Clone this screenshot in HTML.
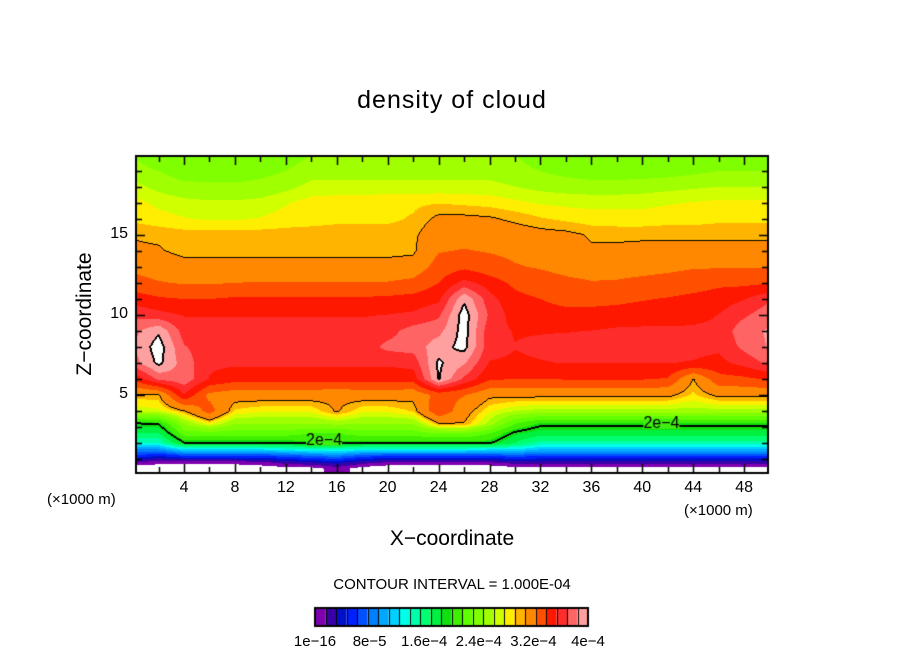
<!DOCTYPE html>
<html><head><meta charset="utf-8">
<style>
body{margin:0;background:#fff;width:904px;height:654px;overflow:hidden;position:relative;font-family:"Liberation Sans",sans-serif;}
.t{position:absolute;color:#000;white-space:nowrap;}
</style></head>
<body>
<div class="t" style="left:0;width:904px;text-align:center;top:86px;font-size:25px;letter-spacing:1px;">density of cloud</div>
<canvas id="cv" width="904" height="654" style="position:absolute;left:0;top:0"></canvas>
<div class="t" style="left:47px;top:491px;font-size:15px;">(×1000 m)</div>
<div class="t" style="left:684px;top:502px;font-size:15px;">(×1000 m)</div>
<div class="t" style="left:0;width:904px;text-align:center;top:527px;font-size:21px;">X−coordinate</div>
<div class="t" style="left:85px;top:314px;font-size:21px;transform:translate(-50%,-50%) rotate(-90deg);">Z−coordinate</div>
<div class="t" style="left:0;width:904px;text-align:center;top:576px;font-size:15px;">CONTOUR INTERVAL = 1.000E-04</div>
<div id="xl"></div><div id="yl"></div><div id="cl"></div>
<script>
const xCols=[0,2,4,6,8,10,12,14,16,18,20,22,24,26,28,30,32,34,36,38,40,42,44,46,48,50];
const zRows=[20,19,18,17,16,15,14,13,12,11,10,9,8,7,6,5,4,3.2,2.6,2.0,1.6,1.2,0.8,0.4];
const r20=[16,15,15,15,15,15,15.5,16,16,16,16,16,16,16,16,16,15.5,15,15,15,15,15,15,15,15.5,15.5];
const r19=[16.5,16,15.5,15.5,15.5,15.7,16,16.5,16.5,16.5,16.5,16.5,16.5,16.5,16.5,16.3,16,15.7,15.5,15.5,15.5,15.6,15.8,16,16,16];
const r18=[17,16.6,16.3,16.2,16.2,16.3,16.6,17,17,17,17,17,17,17,17,16.8,16.6,16.5,16.4,16.4,16.5,16.6,16.7,16.8,16.8,16.8];
const r17=[17.6,17.2,17,16.9,16.9,17,17.3,17.6,17.7,17.7,17.8,17.8,17.9,17.8,17.7,17.5,17.3,17.2,17.2,17.2,17.2,17.3,17.4,17.5,17.5,17.5];
const r16=[17.8,17.6,17.4,17.3,17.3,17.4,17.6,17.7,17.8,17.8,17.8,18,18.7,18.7,18.6,18.3,18,17.8,17.6,17.6,17.6,17.7,17.7,17.8,17.8,17.8];
const r15=[18.4,18.3,18.2,18.2,18.2,18.2,18.2,18.2,18.2,18.2,18.2,18.3,19.2,19.3,19.2,19,18.8,18.7,18.4,18.3,18.3,18.3,18.3,18.3,18.3,18.3];
const r14=[18.7,18.6,18.2,18.2,18.2,18.2,18.2,18.2,18.2,18.2,18.2,18.3,19.8,20,19.8,19.6,19.4,19.2,18.6,18.7,18.8,18.8,18.8,18.8,18.8,18.8];
const r13=[19.5,19.2,18.9,18.9,18.9,18.9,18.9,18.9,18.9,18.9,18.9,19,20.5,21,20.5,20,19.8,19.5,19.3,19.5,19.5,19.6,19.8,19.8,19.8,19.8];
const r12=[20.5,20,19.8,19.8,19.9,20,20,20,20,20,20,20.3,21.3,23,22,21,20.5,20.2,20,20,20.2,20.4,20.6,21,21,21.2];
const r11=[22,21.5,21.3,21.3,21.5,21.5,21.5,21.5,21.5,21.5,21.6,21.8,22.3,25.8,23,21.7,21.3,21,21,21,21.2,21.4,21.7,22,22.5,23.5];
const r10=[23.5,23,22.5,22.5,22.5,22.5,22.5,22.5,22.5,22.5,22.6,22.8,23.5,26.6,23.5,22,21.7,21.6,21.6,21.8,22,22,22.2,22.6,23.5,24.5];
const r9=[24.5,25.8,23.2,23,23,23,23,23,23,23,23.3,24.2,24.5,26.5,23,22.5,22.5,22.5,22.6,22.8,22.8,22.8,22.8,22.8,24.5,25];
const r8=[24.8,26.6,23.8,23.1,23.1,23.1,23.1,23.1,23.1,23.1,24,24.2,25.5,26.4,23,22.6,22.8,23.1,23.1,23.1,22.9,22.9,22.9,22.8,24,25];
const r7=[24.3,26.3,24.3,22.8,22.8,22.8,22.8,22.8,22.8,22.8,22.8,23,26.2,25,22.5,22.4,22.5,22.6,22.6,22.6,22.6,22.6,22.5,22.2,23,24];
const r6=[21.5,24,24.5,22.5,21.8,21.8,21.8,21.8,21.8,21.8,21.8,21.9,26.1,23.5,21.5,21.3,21.3,21.4,21.4,21.4,21.4,21.2,18.4,20.8,21,21.5];
const r5=[18.2,18.3,22.5,19.5,19,19,19,19,18.8,19,19,18.8,20.5,20,18.7,18.7,18.7,18.7,18.7,18.7,18.7,18.7,17.8,18.7,18.7,18.7];
const r4=[17,17.2,18.3,20.5,17.8,17.5,17.5,17.5,18.6,17.5,17.5,18,21,19,17.5,16.8,16.5,16.5,16.5,16.5,16.5,16.5,16.5,16.5,16.5,16.5];
const r32=[12.3,12.6,16,17.5,16,16,16,16,16.2,16,16,16,18.3,18.4,16.5,14,12.8,12.8,12.8,12.8,12.8,12.8,12.8,12.8,12.8,12.8];
const r26=[11,11,14.5,14.5,14.5,14.5,14.5,14,14,14.5,14.5,14.5,15,15,14,12.2,11.5,11.5,11.5,11.5,11.5,11.5,11.5,11.5,11.5,11.5];
const r20b=[9,9,12.4,12.4,12.4,12.4,12.4,12.8,12.8,12.6,12.6,12.6,12.6,12.6,12.6,11,9.5,9.5,9.5,9.5,9.5,9.5,9.5,9.5,9.5,9.5];
const r16b=[6,6,8,8,8,8,8.5,9,9,8.5,8.5,8.5,8.5,8.5,8,8,7,7,7,7,7,7,7,7,7,7];
const r12b=[4,3,4,4,4,4,4.5,5,5.5,4.5,4,4,4,4,4,4.5,4,4,4,4,4,4,4,4,4,4];
const r08=[1,0.5,0.5,0.5,0.5,0.8,1.5,2,2.5,1.5,1,1,1,1,1,1.5,1.5,1.5,1.5,1.5,1.5,1.5,1.5,1.5,1.5,1.5];
const r04=[-1,-1,-1,-1,-1,-0.8,-0.5,-0.5,0.5,-0.5,-1,-1,-1,-1,-1,-0.5,-0.5,-0.5,-0.5,-0.5,-0.5,-0.5,-0.5,-0.5,-0.5,-0.5];
const grid=[r20,r19,r18,r17,r16,r15,r14,r13,r12,r11,r10,r9,r8,r7,r6,r5,r4,r32,r26,r20b,r16b,r12b,r08,r04];
const xTicks=[4,8,12,16,20,24,28,32,36,40,44,48];
const zTicks=[5,10,15];
const cbarLabels=["1e-16","8e-5","1.6e-4","2.4e-4","3.2e-4","4e-4"];
const contourLevels=[12.5,18.5,26];
const colors=["#8000b0","#3a00a8","#0010c8","#0020ff","#0050ff","#0080ff","#00a8ff","#00d0ff","#00ffe8","#00ffa8","#00ff70","#00f040","#10e010","#40f000","#60ff00","#80ff00","#a0ff00","#d0ff00","#ffee00","#ffb400","#ff8800","#ff5000","#ff1800","#ff2c2c","#ff6464","#ffa0a0"];

const L=136,R=768,T=156,B=473;
const X0=133.1,XS=12.73,Z0=475,ZS=16;
const px=x=>X0+XS*x, py=z=>Z0-ZS*z;
const ix=p=>(p-X0)/XS, iz=p=>(Z0-p)/ZS;
function cmap(v){
  if(v<=16.5)return v;
  if(v<=18.5)return 16.5+(v-16.5)*1.75;
  if(v<=22)return 20+(v-18.5)*(2.5/3.5);
  if(v<=26)return 22.5+(v-22)*(3.5/4);
  return v;
}
function sample(x,z){
  x=Math.max(0,Math.min(50,x));
  let ci=Math.min(xCols.length-2,Math.floor(x/2)); let fx=(x-xCols[ci])/(xCols[ci+1]-xCols[ci]);
  let ri, fz;
  if(z>=zRows[0]){ri=0;fz=0;}
  else if(z<=zRows[zRows.length-1]){ri=zRows.length-2;fz=1;}
  else{ri=0;while(!(z<=zRows[ri]&&z>=zRows[ri+1]))ri++;fz=(zRows[ri]-z)/(zRows[ri]-zRows[ri+1]);}
  const a=grid[ri][ci],b=grid[ri][ci+1],c=grid[ri+1][ci],d=grid[ri+1][ci+1];
  return (a*(1-fx)+b*fx)*(1-fz)+(c*(1-fx)+d*fx)*fz;
}
const cv=document.getElementById('cv'),ctx=cv.getContext('2d');
const W=R-L,H=B-T;
const vals=new Float32Array(W*H);
for(let j=0;j<H;j++)for(let i=0;i<W;i++)vals[j*W+i]=sample(ix(L+i+0.5),iz(T+j+0.5));
const img=ctx.createImageData(W,H);
function hex(h){return [parseInt(h.substr(1,2),16),parseInt(h.substr(3,2),16),parseInt(h.substr(5,2),16)];}
const rgb=colors.map(hex);
for(let j=0;j<H;j++)for(let i=0;i<W;i++){
  const v=vals[j*W+i];let c;
  const m=cmap(v);
  if(v<0||v>=26)c=[255,255,255];else c=rgb[Math.min(25,Math.floor(m))];
  let black=false;
  for(const lv of contourLevels){
    const thick=lv!==18.5;
    for(const [di,dj] of [[1,0],[0,1],[-1,0],[0,-1]]){const ii=i+di,jj=j+dj;if(ii<0||jj<0||ii>=W||jj>=H)continue;
      const w=vals[jj*W+ii];if((v<lv)!==(w<lv)){if(thick||v<lv)black=true;}}
  }
  if(black)c=[0,0,0];
  const k=(j*W+i)*4;img.data[k]=c[0];img.data[k+1]=c[1];img.data[k+2]=c[2];img.data[k+3]=255;
}
ctx.putImageData(img,L,T);
ctx.font="16px 'Liberation Sans',sans-serif";ctx.textBaseline="middle";ctx.textAlign="center";
[[15,2.15],[41.5,3.2]].forEach(p=>{const m=ctx.measureText("2e−4").width;ctx.fillStyle="#40ee10";ctx.fillRect(px(p[0])-m/2,py(p[1])-5,m,10);ctx.fillStyle="#000";ctx.fillText("2e−4",px(p[0]),py(p[1]));});
ctx.strokeStyle="#000";ctx.lineWidth=2;ctx.strokeRect(L,T,W,H);
ctx.lineWidth=1.5;ctx.beginPath();
for(let x=2;x<=50;x+=2){const p=Math.round(px(x))+0.5;if(p>=R)continue;const len=(x%4===0)?9:6;ctx.moveTo(p,B);ctx.lineTo(p,B-len);ctx.moveTo(p,T);ctx.lineTo(p,T+len);}
for(let z=1;z<=19;z++){const p=Math.round(py(z))+0.5;const len=(z%5===0)?9:6;ctx.moveTo(L,p);ctx.lineTo(L+len,p);ctx.moveTo(R,p);ctx.lineTo(R-len,p);}
ctx.stroke();
const xl=document.getElementById('xl');
xTicks.forEach(t=>{const d=document.createElement('div');d.className='t';


d.style.cssText='left:'+(px(t)-20)+'px;width:40px;text-align:center;top:479px;font-size:16px;';d.textContent=t;xl.appendChild(d);});
const yl=document.getElementById('yl');
zTicks.forEach(t=>{const d=document.createElement('div');d.className='t';


d.style.cssText='left:90px;width:38px;text-align:right;top:'+(py(t)-10)+'px;font-size:16px;';d.textContent=t;yl.appendChild(d);});
const cbL=315,cbR=588,cbT=608,cbB=626,bw=(cbR-cbL)/colors.length;
colors.forEach((c,k)=>{ctx.fillStyle=c;ctx.fillRect(cbL+k*bw,cbT,bw,cbB-cbT);});
ctx.strokeStyle="#000";ctx.lineWidth=1;
for(let k=1;k<colors.length;k++){const p=Math.round(cbL+k*bw)+0.5;ctx.beginPath();ctx.moveTo(p,cbT);ctx.lineTo(p,cbB);ctx.stroke();}
ctx.lineWidth=2;ctx.strokeRect(cbL,cbT,cbR-cbL,cbB-cbT);
const cl=document.getElementById('cl');
cbarLabels.forEach((s,k)=>{const d=document.createElement('div');d.className='t';


const xc=cbL+(cbR-cbL)*k/(cbarLabels.length-1);
d.style.cssText='left:'+(xc-30)+'px;width:60px;text-align:center;top:633px;font-size:15px;';d.textContent=s.replace(/-/g,'−');cl.appendChild(d);});
</script>
</body></html>
